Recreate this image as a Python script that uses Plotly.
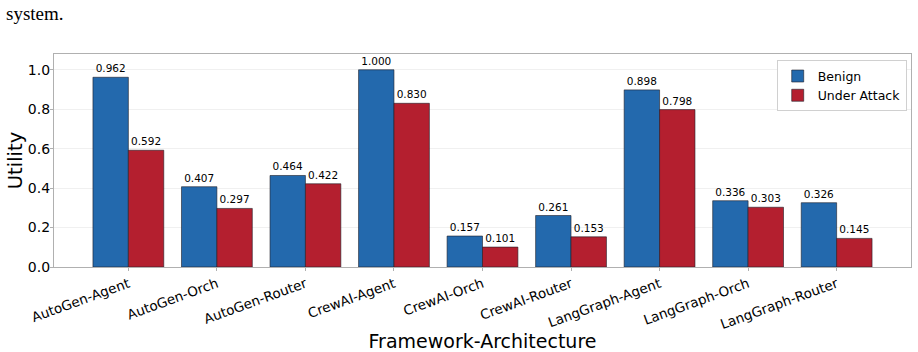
import plotly.graph_objects as go

categories = ["AutoGen-Agent", "AutoGen-Orch", "AutoGen-Router",
              "CrewAI-Agent", "CrewAI-Orch", "CrewAI-Router",
              "LangGraph-Agent", "LangGraph-Orch", "LangGraph-Router"]
benign = [0.962, 0.407, 0.464, 1.000, 0.157, 0.261, 0.898, 0.336, 0.326]
under_attack = [0.592, 0.297, 0.422, 0.830, 0.101, 0.153, 0.798, 0.303, 0.145]
y_ticks = [0.0, 0.2, 0.4, 0.6, 0.8, 1.0]

FONT = "DejaVu Sans"

fig = go.Figure()
for name, vals, color in [("Benign", benign, "#2369ad"), ("Under Attack", under_attack, "#b41f2f")]:
    fig.add_trace(go.Bar(
        x=categories, y=vals, name=name,
        marker=dict(color=color, line=dict(color="rgba(30,30,40,0.75)", width=0.8)),
        texttemplate="%{y:.3f}", textposition="outside",
        textfont=dict(family=FONT, size=10.5, color="black"),
        constraintext="none", cliponaxis=False,
    ))

fig.update_layout(
    width=918, height=352,
    margin=dict(l=54, r=7, t=54, b=85, autoexpand=False),
    paper_bgcolor="white", plot_bgcolor="white",
    barmode="group", bargap=0.2, bargroupgap=0,
    font=dict(family=FONT, color="black"),
    legend=dict(x=0.995, y=0.97, xanchor="right", yanchor="top",
                bgcolor="white", bordercolor="#d0d0d0", borderwidth=1,
                font=dict(family=FONT, size=12.5), itemwidth=30,
                tracegroupgap=0),
    annotations=[dict(text="system.", xref="paper", yref="paper",
                      x=-0.058, y=1.19, xanchor="left", yanchor="middle",
                      showarrow=False,
                      font=dict(family="Liberation Serif", size=19, color="black"))],
)
fig.update_xaxes(
    range=[-0.84, 8.84], tickangle=-20, automargin=False,
    tickfont=dict(family=FONT, size=13.5),
    showline=True, mirror=True, linecolor="#b0b0b0", linewidth=1.2,
    ticks="outside", ticklen=3, tickcolor="#b0b0b0",
    showgrid=False,
    title=dict(text="Framework-Architecture", font=dict(family=FONT, size=19), standoff=4),
)
fig.update_yaxes(
    range=[0, 1.08], tickvals=y_ticks, ticktext=[f"{v:.1f}" for v in y_ticks],
    automargin=False, ticklabelstandoff=-3,
    tickfont=dict(family=FONT, size=14),
    showline=True, mirror=True, linecolor="#b0b0b0", linewidth=1.2,
    ticks="outside", ticklen=3, tickcolor="#b0b0b0",
    showgrid=True, gridcolor="#f0f0f0", gridwidth=1, zeroline=False,
    title=dict(text="Utility", font=dict(family=FONT, size=19.5), standoff=0),
)

fig.write_html("out.html")
